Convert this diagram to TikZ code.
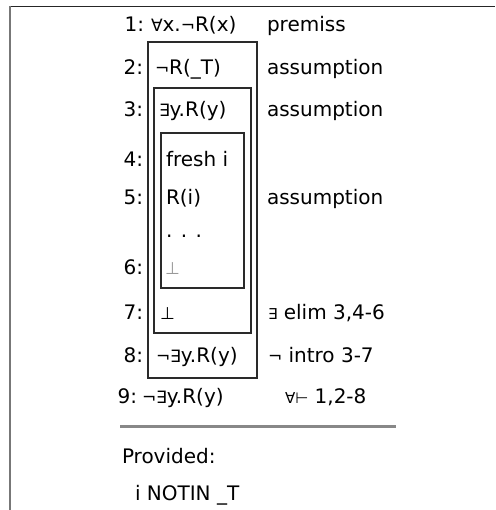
\documentclass[tikz,border=0pt]{standalone}
\usepackage{fontspec}
\setmainfont{DejaVu Sans}
\definecolor{framegray}{HTML}{777777}
\definecolor{boxline}{HTML}{2A2A2A}
\definecolor{sepgray}{HTML}{888888}
\definecolor{faint}{HTML}{999999}
\begin{document}
\begin{tikzpicture}[x=1pt,y=-1pt,
  txt/.style={inner sep=0pt, outer sep=0pt, font=\fontsize{20}{24}\selectfont, anchor=base west},
  num/.style={inner sep=0pt, outer sep=0pt, font=\fontsize{20}{24}\selectfont, anchor=base east},
  boxframe/.style={draw=boxline, line width=1.2pt}]
\useasboundingbox (0,0) rectangle (495,510);
% page frame
\draw[draw=black!85, line width=1.3pt] (10,6.5) -- (495,6.5);
\draw[draw=framegray, line width=1.5pt] (10,6) -- (10,510);
% boxes
\draw[boxframe] (148,42) rectangle (257,378);
\draw[boxframe] (154,88) rectangle (251,333);
\draw[boxframe] (161,133) rectangle (244,288);
% line numbers
\node[num] (n1) at (144,32) {1:};
\node[num] (n2) at (143,75) {2:};
\node[num] (n3) at (143,117) {3:};
\node[num] (n4) at (143,167) {4:};
\node[num] (n5) at (143,205) {5:};
\node[num] (n6) at (143,274) {6:};
\node[num] (n7) at (143,319) {7:};
\node[num] (n8) at (143,362) {8:};
\node[num] (n9) at (137,403) {9:};
% formulas
\node[txt] (f1) at (151,32) {{\fontsize{17}{20}\selectfont ∀}x.{\fontsize{17}{20}\selectfont ¬}R(x)};
\node[txt] (f2) at (155,75) {{\fontsize{17}{20}\selectfont ¬}R(\_T)};
\node[txt] (f3) at (159,117) {{\fontsize{17}{20}\selectfont ∃}y.R(y)};
\node[txt] (f4) at (166,167) {fresh i};
\node[txt] (f5) at (166,205) {R(i)};
\node[txt] (dots) at (166,237) {. . .};
\node[txt, text=faint] (f6) at (165,274) {{\fontsize{17}{20}\selectfont ⊥}};
\node[txt] (f7) at (160,319) {{\fontsize{17}{20}\selectfont ⊥}};
\node[txt] (f8) at (156,362) {{\fontsize{17}{20}\selectfont ¬∃}y.R(y)};
\node[txt] (f9) at (142,403) {{\fontsize{17}{20}\selectfont ¬∃}y.R(y)};
% justifications
\node[txt] (j1) at (267,32) {premiss};
\node[txt] (j2) at (267,75) {assumption};
\node[txt] (j3) at (267,117) {assumption};
\node[txt] (j5) at (267,205) {assumption};
\node[txt] (j7) at (268,319) {{\fontsize{15}{18}\selectfont ∃} elim 3,4-6};
\node[txt] (j8) at (268,362) {{\fontsize{17}{20}\selectfont ¬} intro 3-7};
\node[txt] (j9) at (285,403) {{\fontsize{15}{18}\selectfont ∀⊢} 1,2-8};
% separator
\draw[draw=sepgray, line width=3pt] (120,426) -- (396,426);
% provisos
\node[txt] (prov) at (122,463) {Provided:};
\node[txt] (cond) at (135,500) {i NOTIN \_T};
\end{tikzpicture}
\end{document}
